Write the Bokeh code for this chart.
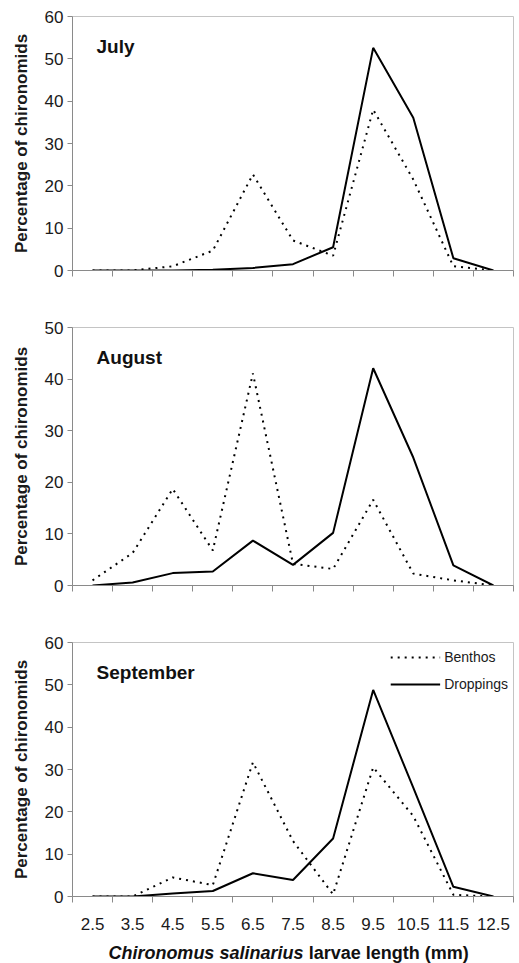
from bokeh.plotting import figure
from bokeh.layouts import column
from bokeh.models import Range1d, FixedTicker, Label, Legend, LegendItem
from bokeh.embed import file_html
from bokeh.resources import INLINE

# ---- data -------------------------------------------------------------
lengths = [2.5, 3.5, 4.5, 5.5, 6.5, 7.5, 8.5, 9.5, 10.5, 11.5, 12.5]
bin_edges = [2, 3, 4, 5, 6, 7, 8, 9, 10, 11, 12, 13]

july_benthos = [0.0, 0.0, 1.0, 4.7, 22.7, 7.1, 3.5, 38.0, 21.5, 1.0, 0.0]
july_droppings = [0.0, 0.0, 0.0, 0.2, 0.6, 1.5, 5.5, 52.6, 36.1, 2.9, 0.0]

august_benthos = [1.0, 6.3, 18.7, 6.8, 41.1, 4.2, 3.2, 16.6, 2.3, 1.0, 0.0]
august_droppings = [0.0, 0.6, 2.4, 2.7, 8.7, 4.0, 10.2, 42.1, 24.8, 3.9, 0.0]

september_benthos = [0.0, 0.0, 4.5, 2.7, 31.7, 13.1, 0.5, 30.5, 19.0, 0.4, 0.0]
september_droppings = [0.0, 0.0, 0.7, 1.3, 5.5, 3.9, 13.7, 48.8, 25.7, 2.3, 0.0]

months = ["July", "August", "September"]
y_max = [60, 50, 60]
x_title_italic = "Chironomus salinarius"
x_title_rest = "larvae length (mm)"

FONT = "Liberation Sans"
AXIS_GRAY = "#8a8a8a"
W = 519
B_LEFT = 72
B_RIGHT = 6


def make_panel(month, benthos, droppings, ymax, height, b_top, b_bottom,
               show_xlabels=False, legend=False):
    p = figure(width=W, height=height, output_backend="svg",
               toolbar_location=None,
               x_range=Range1d(2, 13), y_range=Range1d(0, ymax),
               min_border_left=B_LEFT, min_border_right=B_RIGHT,
               min_border_top=b_top, min_border_bottom=b_bottom)
    p.xgrid.visible = False
    p.ygrid.visible = False
    p.outline_line_color = "#c4c4c4"
    p.outline_line_width = 1
    p.background_fill_color = "white"
    p.border_fill_color = "white"

    rb = p.line(lengths, benthos, line_color="black", line_width=2,
                line_dash="2 5")
    rd = p.line(lengths, droppings, line_color="black", line_width=2)

    # x axis: labels at bin centres, tick marks at bin edges
    xa = p.xaxis[0]
    if show_xlabels:
        xa.ticker = FixedTicker(ticks=lengths, minor_ticks=bin_edges)
    else:
        xa.ticker = FixedTicker(ticks=[], minor_ticks=bin_edges)
    xa.major_tick_out = 0
    xa.major_tick_in = 0
    xa.minor_tick_out = 6
    xa.minor_tick_in = 0
    xa.minor_tick_line_color = AXIS_GRAY
    xa.axis_line_color = AXIS_GRAY
    xa.major_label_text_font = FONT
    xa.major_label_text_color = "#1a1a1a"
    xa.major_label_text_font_size = "17px"
    xa.major_label_standoff = 15

    ya = p.yaxis[0]
    ya.ticker = FixedTicker(ticks=list(range(0, ymax + 1, 10)))
    ya.minor_tick_line_color = None
    ya.major_tick_out = 5
    ya.major_tick_in = 0
    ya.major_tick_line_color = AXIS_GRAY
    ya.axis_line_color = AXIS_GRAY
    ya.major_label_text_font = FONT
    ya.major_label_text_font_size = "17px"
    ya.major_label_text_color = "#1a1a1a"
    ya.major_label_standoff = 4
    ya.axis_label = "Percentage of chironomids"
    ya.axis_label_text_font = FONT
    ya.axis_label_text_font_size = "17px"
    ya.axis_label_text_font_style = "bold"
    ya.axis_label_text_color = "#1a1a1a"
    ya.axis_label_standoff = 11

    # month label inside the frame (top-left)
    frame_h = height - b_top - b_bottom
    y_center = ymax - 30.0 * ymax / frame_h
    p.add_layout(Label(x=2.6, y=y_center, text=month, text_font=FONT,
                       text_font_size="19px", text_font_style="bold",
                       text_color="#111111", text_baseline="middle",
                       text_align="left"))

    if legend:
        lg = Legend(items=[LegendItem(label="Benthos", renderers=[rb]),
                           LegendItem(label="Droppings", renderers=[rd])],
                    location="top_right")
        lg.border_line_alpha = 0
        lg.background_fill_alpha = 0
        lg.glyph_width = 50
        lg.glyph_height = 20
        lg.label_height = 20
        lg.label_text_font = FONT
        lg.label_text_font_size = "14px"
        lg.label_text_color = "#1a1a1a"
        lg.label_standoff = 4
        lg.spacing = 7
        lg.padding = 0
        lg.margin = 5
        p.add_layout(lg)
    return p


p1 = make_panel(months[0], july_benthos, july_droppings, y_max[0],
                290, 16, 20)
p2 = make_panel(months[1], august_benthos, august_droppings, y_max[1],
                315, 37, 20)
p3 = make_panel(months[2], september_benthos, september_droppings, y_max[2],
                328, 37, 37, show_xlabels=True, legend=True)

# strip below the last panel carrying the x-axis title (mixed italic / bold)
pt = figure(width=W, height=30, output_backend="svg", toolbar_location=None,
            x_range=Range1d(2, 13), y_range=Range1d(0, 30),
            x_axis_type=None, y_axis_type=None,
            min_border_left=B_LEFT, min_border_right=B_RIGHT,
            min_border_top=0, min_border_bottom=0)
pt.xgrid.visible = False
pt.ygrid.visible = False
pt.outline_line_color = None
pt.add_layout(Label(x=7.76, y=11, text=x_title_italic,
                    text_font=FONT, text_font_size="18px",
                    text_font_style="bold italic", text_color="#111111",
                    text_align="right", text_baseline="middle"))
pt.add_layout(Label(x=7.89, y=11, text=x_title_rest,
                    text_font=FONT, text_font_size="18px",
                    text_font_style="bold", text_color="#111111",
                    text_align="left", text_baseline="middle"))

layout = column(p1, p2, p3, pt)
open("out.html", "w").write(file_html(layout, INLINE))
